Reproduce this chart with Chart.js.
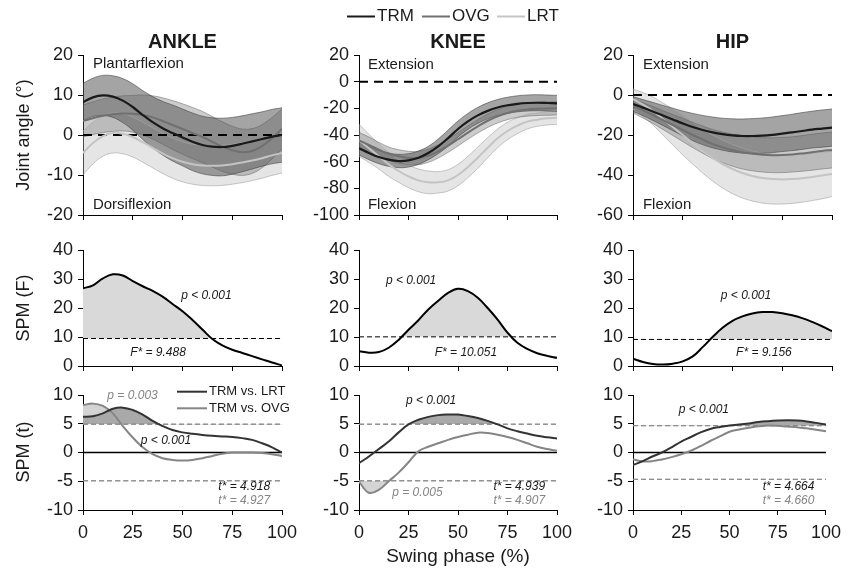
<!DOCTYPE html>
<html><head><meta charset="utf-8">
<script src="https://cdn.jsdelivr.net/npm/chart.js@4.4.1/dist/chart.umd.min.js"></script>
<style>
html,body{margin:0;padding:0;background:#fff;}
#wrap{position:relative;width:848px;height:568px;overflow:hidden;background:#fff;}
#wrap canvas{position:absolute;left:0;top:0;}
</style></head>
<body><div id="wrap"></div>
<script>
// ---------------- DATA ----------------
const phase = [0,5,10,15,20,25,30,35,40,45,50,55,60,65,70,75,80,85,90,95,100];
const xTicks = [0,25,50,75,100];
const joints = ['ANKLE','KNEE','HIP'];
const groups = ['TRM','OVG','LRT'];

// Joint angles (deg): mean and SD
const ankleTRM   = [8.2,9.4,9.9,9.6,8.6,7.0,5.0,3.2,1.7,0.5,-0.6,-1.7,-2.5,-2.9,-3.0,-2.7,-2.2,-1.6,-1.0,-0.4,0.0];
const ankleTRMsd = [4.7,4.8,5.0,5.2,5.5,5.8,6.1,6.4,6.7,7.0,7.1,7.2,7.2,7.2,7.2,7.1,7.0,6.9,6.8,6.8,6.8];
const ankleOVG   = [3.5,4.2,4.8,5.2,5.4,5.3,5.0,4.4,3.5,2.5,1.5,0.5,-0.5,-1.7,-2.9,-3.8,-4.3,-4.0,-2.8,-0.8,1.5];
const ankleOVGsd = [4.0,4.1,4.2,4.3,4.4,4.6,5.0,5.4,5.8,6.1,6.3,6.4,6.4,6.3,6.2,6.0,5.8,5.6,5.4,5.2,5.0];
const ankleLRT   = [-4.5,-2.0,-0.3,0.5,0.3,-0.5,-1.8,-3.2,-4.6,-5.8,-6.7,-7.3,-7.6,-7.7,-7.6,-7.3,-6.9,-6.4,-5.8,-5.1,-4.5];
const ankleLRTsd = [5.5,5.2,5.0,5.0,5.0,5.0,5.0,5.0,5.0,5.0,5.0,5.0,5.0,5.0,5.0,5.0,5.0,5.0,5.0,5.0,5.0];

const kneeTRM   = [-50,-53.5,-56.5,-58.5,-59.5,-59,-57,-53.5,-48.5,-42.3,-35.5,-29.8,-25.3,-21.9,-19.4,-17.7,-16.6,-16,-15.8,-16,-16.3];
const kneeTRMsd = [5,5,5,5,5,5,5,5,5.5,6,6,6,6,6,6,6,6,6,6,6,6];
const kneeOVG   = [-44,-47.5,-51,-54,-56,-57.2,-57.3,-55.5,-52.3,-48,-43.2,-38.2,-33.5,-29.3,-26,-23.5,-21.8,-20.9,-20.4,-20.2,-20];
const kneeOVGsd = [6,6,5.5,5,5,5,5,5,5,5,5,5,5,5,5,5,5,5,5,5,5];
const kneeLRT   = [-44,-50,-56,-62,-67,-71,-74,-75.5,-75.5,-74,-70,-64,-57,-49.5,-42.5,-37,-33,-30,-28.5,-27.5,-27];
const kneeLRTsd = [12,10.5,9.5,9,8.5,8.5,8.5,8.5,8,8,8,8,8,7.5,7,6.5,6,5.5,5,5,5];

const hipTRM   = [-4.5,-6.3,-8.2,-10.2,-12.2,-14.2,-16,-17.5,-18.7,-19.6,-20.2,-20.5,-20.5,-20.3,-19.9,-19.3,-18.7,-18.0,-17.3,-16.8,-16.3];
const hipTRMsd = [3.7,4.0,4.5,5.0,5.6,6.2,6.8,7.3,7.7,8.0,8.3,8.5,8.7,8.8,8.9,9.0,9.1,9.2,9.2,9.3,9.3];
const hipOVG   = [-5.5,-7.7,-10,-12.5,-15,-17.5,-20,-22.3,-24.5,-26.2,-27.6,-28.7,-29.4,-29.9,-30.1,-30,-29.7,-29.2,-28.6,-28,-27.5];
const hipOVGsd = [3.5,3.8,4.2,4.7,5.2,5.8,6.3,6.8,7.3,7.7,8.0,8.3,8.5,8.6,8.7,8.8,8.8,8.9,9,9,9];
const hipLRT   = [-2,-4.8,-8,-12,-16,-20,-24,-28,-31.5,-34.5,-37,-39,-40.5,-41.5,-42,-42.2,-42,-41.6,-41,-40.3,-39.5];
const hipLRTsd = [5,6,7,8,9,10,10.5,11,11.5,12,12.3,12.5,12.5,12.5,12.5,12.3,12.2,12,11.8,11.6,11.3];

// SPM{F}
const ankleF = [26.8,27.8,30.2,31.6,31.2,29.3,27.5,25.9,23.9,21.4,18.9,15.9,12.6,9.3,7.1,5.6,4.5,3.4,2.3,1.2,0.2];
const kneeF  = [5.1,4.6,4.8,6.3,9.0,12.5,15.8,19.5,22.5,25.2,26.6,25.8,23.5,20.0,16.0,11.5,8.0,5.9,4.4,3.5,2.8];
const hipF   = [2.5,1.4,0.7,0.5,0.8,1.6,3.3,6.5,10.0,13.2,15.6,17.1,18.1,18.6,18.6,18.2,17.5,16.5,15.2,13.7,12.0];
const fThr   = [9.488,10.051,9.156];

// SPM{t}
const ankleT_LRT = [6.2,6.3,6.8,7.6,7.8,7.4,6.6,5.5,4.6,3.9,3.5,3.25,3.05,2.9,2.8,2.7,2.5,2.2,1.6,0.9,0.0];
const ankleT_OVG = [8.25,8.5,8.1,6.8,4.6,2.6,0.9,-0.3,-1.0,-1.3,-1.4,-1.3,-1.0,-0.6,-0.2,0.0,0.0,0.0,-0.1,-0.3,-0.6];
const kneeT_LRT  = [-1.85,-0.7,0.6,1.9,3.5,4.9,5.7,6.2,6.5,6.6,6.6,6.35,6.0,5.5,4.9,4.2,3.7,3.3,2.9,2.65,2.45];
const kneeT_OVG  = [-5.1,-7.0,-6.5,-5.0,-3.5,-1.7,0.2,1.0,1.6,2.2,2.7,3.1,3.45,3.4,3.1,2.7,2.2,1.6,1.0,0.6,0.3];
const hipT_LRT   = [-2.2,-1.5,-0.7,0.0,0.9,1.9,2.7,3.5,4.1,4.45,4.7,4.85,5.05,5.3,5.45,5.55,5.6,5.55,5.4,5.15,4.85];
const hipT_OVG   = [-1.2,-1.55,-1.5,-1.2,-0.8,-0.3,0.3,1.1,2.0,2.8,3.6,4.0,4.3,4.55,4.7,4.65,4.5,4.4,4.2,3.95,3.7];
const tThrLRT = [4.918,4.939,4.664];
const tThrOVG = [4.927,4.907,4.660];

// y-axis tick settings
const angleTicks = [{min:-20,max:20,step:10},{min:-100,max:20,step:20},{min:-60,max:20,step:20}];
const fTicks = {min:0,max:40,step:10};
const tTicks = {min:-10,max:10,step:5};

// ---------------- STYLE / LAYOUT ----------------
const FONT = '"Liberation Sans", Arial, Helvetica, sans-serif';
Chart.defaults.font.family = FONT;
Chart.defaults.color = '#1a1a1a';
const COLS = [{L:83,R:282},{L:359,R:557},{L:633,R:832}];
const ROWS = [{T:55,B:215},{T:250,B:366},{T:395,B:510}];
const C = {trm:'#1a1a1a', ovg:'#707070', lrt:'#c4c4c4',
  trmBand:'rgba(90,90,90,0.55)', ovgBand:'rgba(110,110,110,0.35)', lrtBand:'rgba(190,190,190,0.40)',
  trmEdge:'rgba(60,60,60,0.7)', ovgEdge:'rgba(90,90,90,0.6)', lrtEdge:'rgba(165,165,165,0.8)',
  tLRT:'#333333', tOVG:'#858585', shadeF:'#d9d9d9', shadeLRT:'#a9a9a9', shadeOVG:'#d4d4d4'};

const pts = ys => phase.map((x,i)=>({x, y: ys[i]}));
const flat = v => [{x:0,y:v},{x:100,y:v}];
const plus = (m,s,k) => m.map((v,i)=>v + k*s[i]);

const wrap = document.getElementById('wrap');
const notesMap = new Map();

const notesPlugin = {
  id:'notes',
  afterDraw(chart){
    const items = notesMap.get(chart.canvas) || [];
    const ctx = chart.ctx, xs = chart.scales.x, ys = chart.scales.y;
    items.forEach(it=>{
      ctx.save();
      if (it.kind === 'seg'){
        ctx.strokeStyle = it.color; ctx.lineWidth = it.width || 2;
        ctx.beginPath(); ctx.moveTo(it.X1,it.Y); ctx.lineTo(it.X2,it.Y); ctx.stroke();
      } else {
        const px = it.x !== undefined ? xs.getPixelForValue(it.x) : it.X;
        const py = it.y !== undefined ? ys.getPixelForValue(it.y) : it.Y;
        ctx.font = it.font; ctx.fillStyle = it.color || '#1a1a1a';
        ctx.textAlign = it.align || 'center'; ctx.textBaseline = 'middle';
        ctx.translate(px, py);
        if (it.rot) ctx.rotate(it.rot);
        ctx.fillText(it.text, 0, 0);
      }
      ctx.restore();
    });
  }
};

function makeChart(col,row,yc,datasets,notes,xLabels){
  const c = document.createElement('canvas');
  c.width = 848; c.height = 568;
  wrap.appendChild(c);
  notesMap.set(c, notes);
  const r = COLS[col], q = ROWS[row];
  return new Chart(c,{
    type:'line',
    data:{datasets},
    options:{
      responsive:false, animation:false, devicePixelRatio:1,
      layout:{autoPadding:false, padding:{left:r.L-60, top:q.T, right:848-r.R, bottom:568-q.B-40}},
      elements:{point:{radius:0}, line:{tension:0.4}},
      plugins:{legend:{display:false}, tooltip:{enabled:false}, filler:{drawTime:'beforeDatasetsDraw'}},
      scales:{
        x:{type:'linear', min:0, max:100,
           afterBuildTicks(s){ s.ticks = xTicks.map(v=>({value:v})); },
           grid:{drawOnChartArea:false, drawTicks:true, tickLength:5, color:'#000'},
           border:{color:'#000', width:1},
           ticks:{display:xLabels, font:{size:18}, color:'#1a1a1a', padding:7, maxRotation:0, autoSkip:false},
           afterFit(s){ s.height = 40; }},
        y:{type:'linear', min:yc.min, max:yc.max,
           grid:{drawOnChartArea:false, drawTicks:true, tickLength:5, color:'#000'},
           border:{color:'#000', width:1},
           ticks:{stepSize:yc.step, font:{size:18}, color:'#1a1a1a', padding:5},
           afterFit(s){ s.width = 60; }}
      }
    },
    plugins:[notesPlugin]
  });
}

const ln = (ys,color,w,extra) => Object.assign({data:pts(ys), borderColor:color, borderWidth:w, fill:false}, extra||{});

function angleSets(m1,s1,m2,s2,m3,s3){
  return [
    ln(m1, C.trm, 2.2),
    ln(m2, C.ovg, 2),
    ln(m3, C.lrt, 2),
    {data:flat(0), borderColor:'#000', borderWidth:2, borderDash:[9,6], fill:false, tension:0},
    ln(plus(m1,s1,1), C.trmEdge, 0.8, {fill:'+1', backgroundColor:C.trmBand}),
    ln(plus(m1,s1,-1), C.trmEdge, 0.8),
    ln(plus(m2,s2,1), C.ovgEdge, 0.8, {fill:'+1', backgroundColor:C.ovgBand}),
    ln(plus(m2,s2,-1), C.ovgEdge, 0.8),
    ln(plus(m3,s3,1), C.lrtEdge, 0.8, {fill:'+1', backgroundColor:C.lrtBand}),
    ln(plus(m3,s3,-1), C.lrtEdge, 0.8)
  ];
}
function fSets(f,thr){
  return [
    ln(f, '#000', 2, {fill:{target:{value:thr}, above:C.shadeF, below:'rgba(0,0,0,0)'}}),
    {data:flat(thr), borderColor:'#000', borderWidth:1, borderDash:[5,3], fill:false, tension:0}
  ];
}
function tSets(a,b,thrA,thrB,bSide){
  return [
    ln(a, C.tLRT, 2),
    ln(b, C.tOVG, 2),
    {data:flat(0), borderColor:'#000', borderWidth:1.5, fill:false, tension:0},
    {data:flat(thrA), borderColor:'#8a8a8a', borderWidth:1, borderDash:[5,3], fill:false},
    {data:flat(-thrA), borderColor:'#8a8a8a', borderWidth:1, borderDash:[5,3], fill:false},
    {data:flat(thrB), borderColor:'#8a8a8a', borderWidth:1, borderDash:[5,3], fill:false},
    {data:flat(-thrB), borderColor:'#8a8a8a', borderWidth:1, borderDash:[5,3], fill:false},
    ln(a, 'rgba(0,0,0,0)', 0, {fill:{target:{value:thrA}, above:C.shadeLRT, below:'rgba(0,0,0,0)'}}),
    bSide > 0
      ? ln(b, 'rgba(0,0,0,0)', 0, {fill:{target:{value:thrB}, above:C.shadeOVG, below:'rgba(0,0,0,0)'}})
      : ln(b, 'rgba(0,0,0,0)', 0, {fill:{target:{value:-thrB}, above:'rgba(0,0,0,0)', below:C.shadeOVG}})
  ];
}

const F15 = '15px ' + FONT, F18 = '18px ' + FONT, FB = 'bold 20px ' + FONT;
const FI = 'italic 12px ' + FONT, F13 = '13px ' + FONT, F17 = '17px ' + FONT;
const GRAY = '#858585';
const ROT = -Math.PI/2;

// ---- Row 1: joint angles ----
makeChart(0,0,angleTicks[0], angleSets(ankleTRM,ankleTRMsd,ankleOVG,ankleOVGsd,ankleLRT,ankleLRTsd), [
  {x:50, Y:42, text:joints[0], font:FB},
  {X:24, Y:135, text:'Joint angle (°)', font:F18, rot:ROT},
  {x:5, Y:64, text:'Plantarflexion', font:F15, align:'left'},
  {x:5, Y:205, text:'Dorsiflexion', font:F15, align:'left'}
], false);
makeChart(1,0,angleTicks[1], angleSets(kneeTRM,kneeTRMsd,kneeOVG,kneeOVGsd,kneeLRT,kneeLRTsd), [
  {x:50, Y:42, text:joints[1], font:FB},
  {x:4.5, Y:64.5, text:'Extension', font:F15, align:'left'},
  {x:4.5, Y:205, text:'Flexion', font:F15, align:'left'},
  {kind:'seg', X1:347, X2:375, Y:16.5, color:C.trm, width:2},
  {X:377, Y:16.5, text:groups[0], font:F17, align:'left'},
  {kind:'seg', X1:422, X2:450, Y:16.5, color:C.ovg, width:2},
  {X:452, Y:16.5, text:groups[1], font:F17, align:'left'},
  {kind:'seg', X1:497, X2:525, Y:16.5, color:C.lrt, width:2},
  {X:527, Y:16.5, text:groups[2], font:F17, align:'left'}
], false);
makeChart(2,0,angleTicks[2], angleSets(hipTRM,hipTRMsd,hipOVG,hipOVGsd,hipLRT,hipLRTsd), [
  {x:50, Y:42, text:joints[2], font:FB},
  {x:5, Y:64.5, text:'Extension', font:F15, align:'left'},
  {x:5, Y:205, text:'Flexion', font:F15, align:'left'}
], false);

// ---- Row 2: SPM{F} ----
makeChart(0,1,fTicks, fSets(ankleF,fThr[0]), [
  {X:24, Y:308, text:'SPM (F)', font:F18, rot:ROT},
  {x:62, y:24.1, text:'p < 0.001', font:FI},
  {x:37.7, y:4.5, text:'F* = ' + fThr[0].toFixed(3), font:FI}
], false);
makeChart(1,1,fTicks, fSets(kneeF,fThr[1]), [
  {x:26.3, y:29.6, text:'p < 0.001', font:FI},
  {x:54, y:4.5, text:'F* = ' + fThr[1].toFixed(3), font:FI}
], false);
makeChart(2,1,fTicks, fSets(hipF,fThr[2]), [
  {x:56.8, y:24.1, text:'p < 0.001', font:FI},
  {x:65.8, y:4.5, text:'F* = ' + fThr[2].toFixed(3), font:FI}
], false);

// ---- Row 3: SPM{t} ----
makeChart(0,2,tTicks, tSets(ankleT_LRT,ankleT_OVG,tThrLRT[0],tThrOVG[0],1), [
  {X:24, Y:452, text:'SPM (t)', font:F18, rot:ROT},
  {x:24.9, y:9.9, text:'p = 0.003', font:FI, color:GRAY},
  {x:41.7, y:2.05, text:'p < 0.001', font:FI},
  {x:94, y:-5.95, text:'t* = ' + tThrLRT[0].toFixed(3), font:FI, align:'right'},
  {x:94, y:-8.4, text:'t* = ' + tThrOVG[0].toFixed(3), font:FI, align:'right', color:GRAY},
  {kind:'seg', X1:177, X2:207, Y:391.7, color:C.tLRT, width:2},
  {X:209, Y:391.7, text:'TRM vs. LRT', font:F13, align:'left'},
  {kind:'seg', X1:177, X2:207, Y:408.3, color:C.tOVG, width:2},
  {X:209, Y:408.3, text:'TRM vs. OVG', font:F13, align:'left'}
], true);
makeChart(1,2,tTicks, tSets(kneeT_LRT,kneeT_OVG,tThrLRT[1],tThrOVG[1],-1), [
  {x:36.4, y:9.0, text:'p < 0.001', font:FI},
  {x:29.5, y:-7.05, text:'p = 0.005', font:FI, color:GRAY},
  {x:94, y:-5.95, text:'t* = ' + tThrLRT[1].toFixed(3), font:FI, align:'right'},
  {x:94, y:-8.4, text:'t* = ' + tThrOVG[1].toFixed(3), font:FI, align:'right', color:GRAY},
  {x:50, Y:557, text:'Swing phase (%)', font:'19px ' + FONT}
], true);
makeChart(2,2,tTicks, tSets(hipT_LRT,hipT_OVG,tThrLRT[2],tThrOVG[2],1), [
  {x:36.7, y:7.5, text:'p < 0.001', font:FI},
  {x:94, y:-5.95, text:'t* = ' + tThrLRT[2].toFixed(3), font:FI, align:'right'},
  {x:94, y:-8.4, text:'t* = ' + tThrOVG[2].toFixed(3), font:FI, align:'right', color:GRAY}
], true);
</script>
</body></html>
